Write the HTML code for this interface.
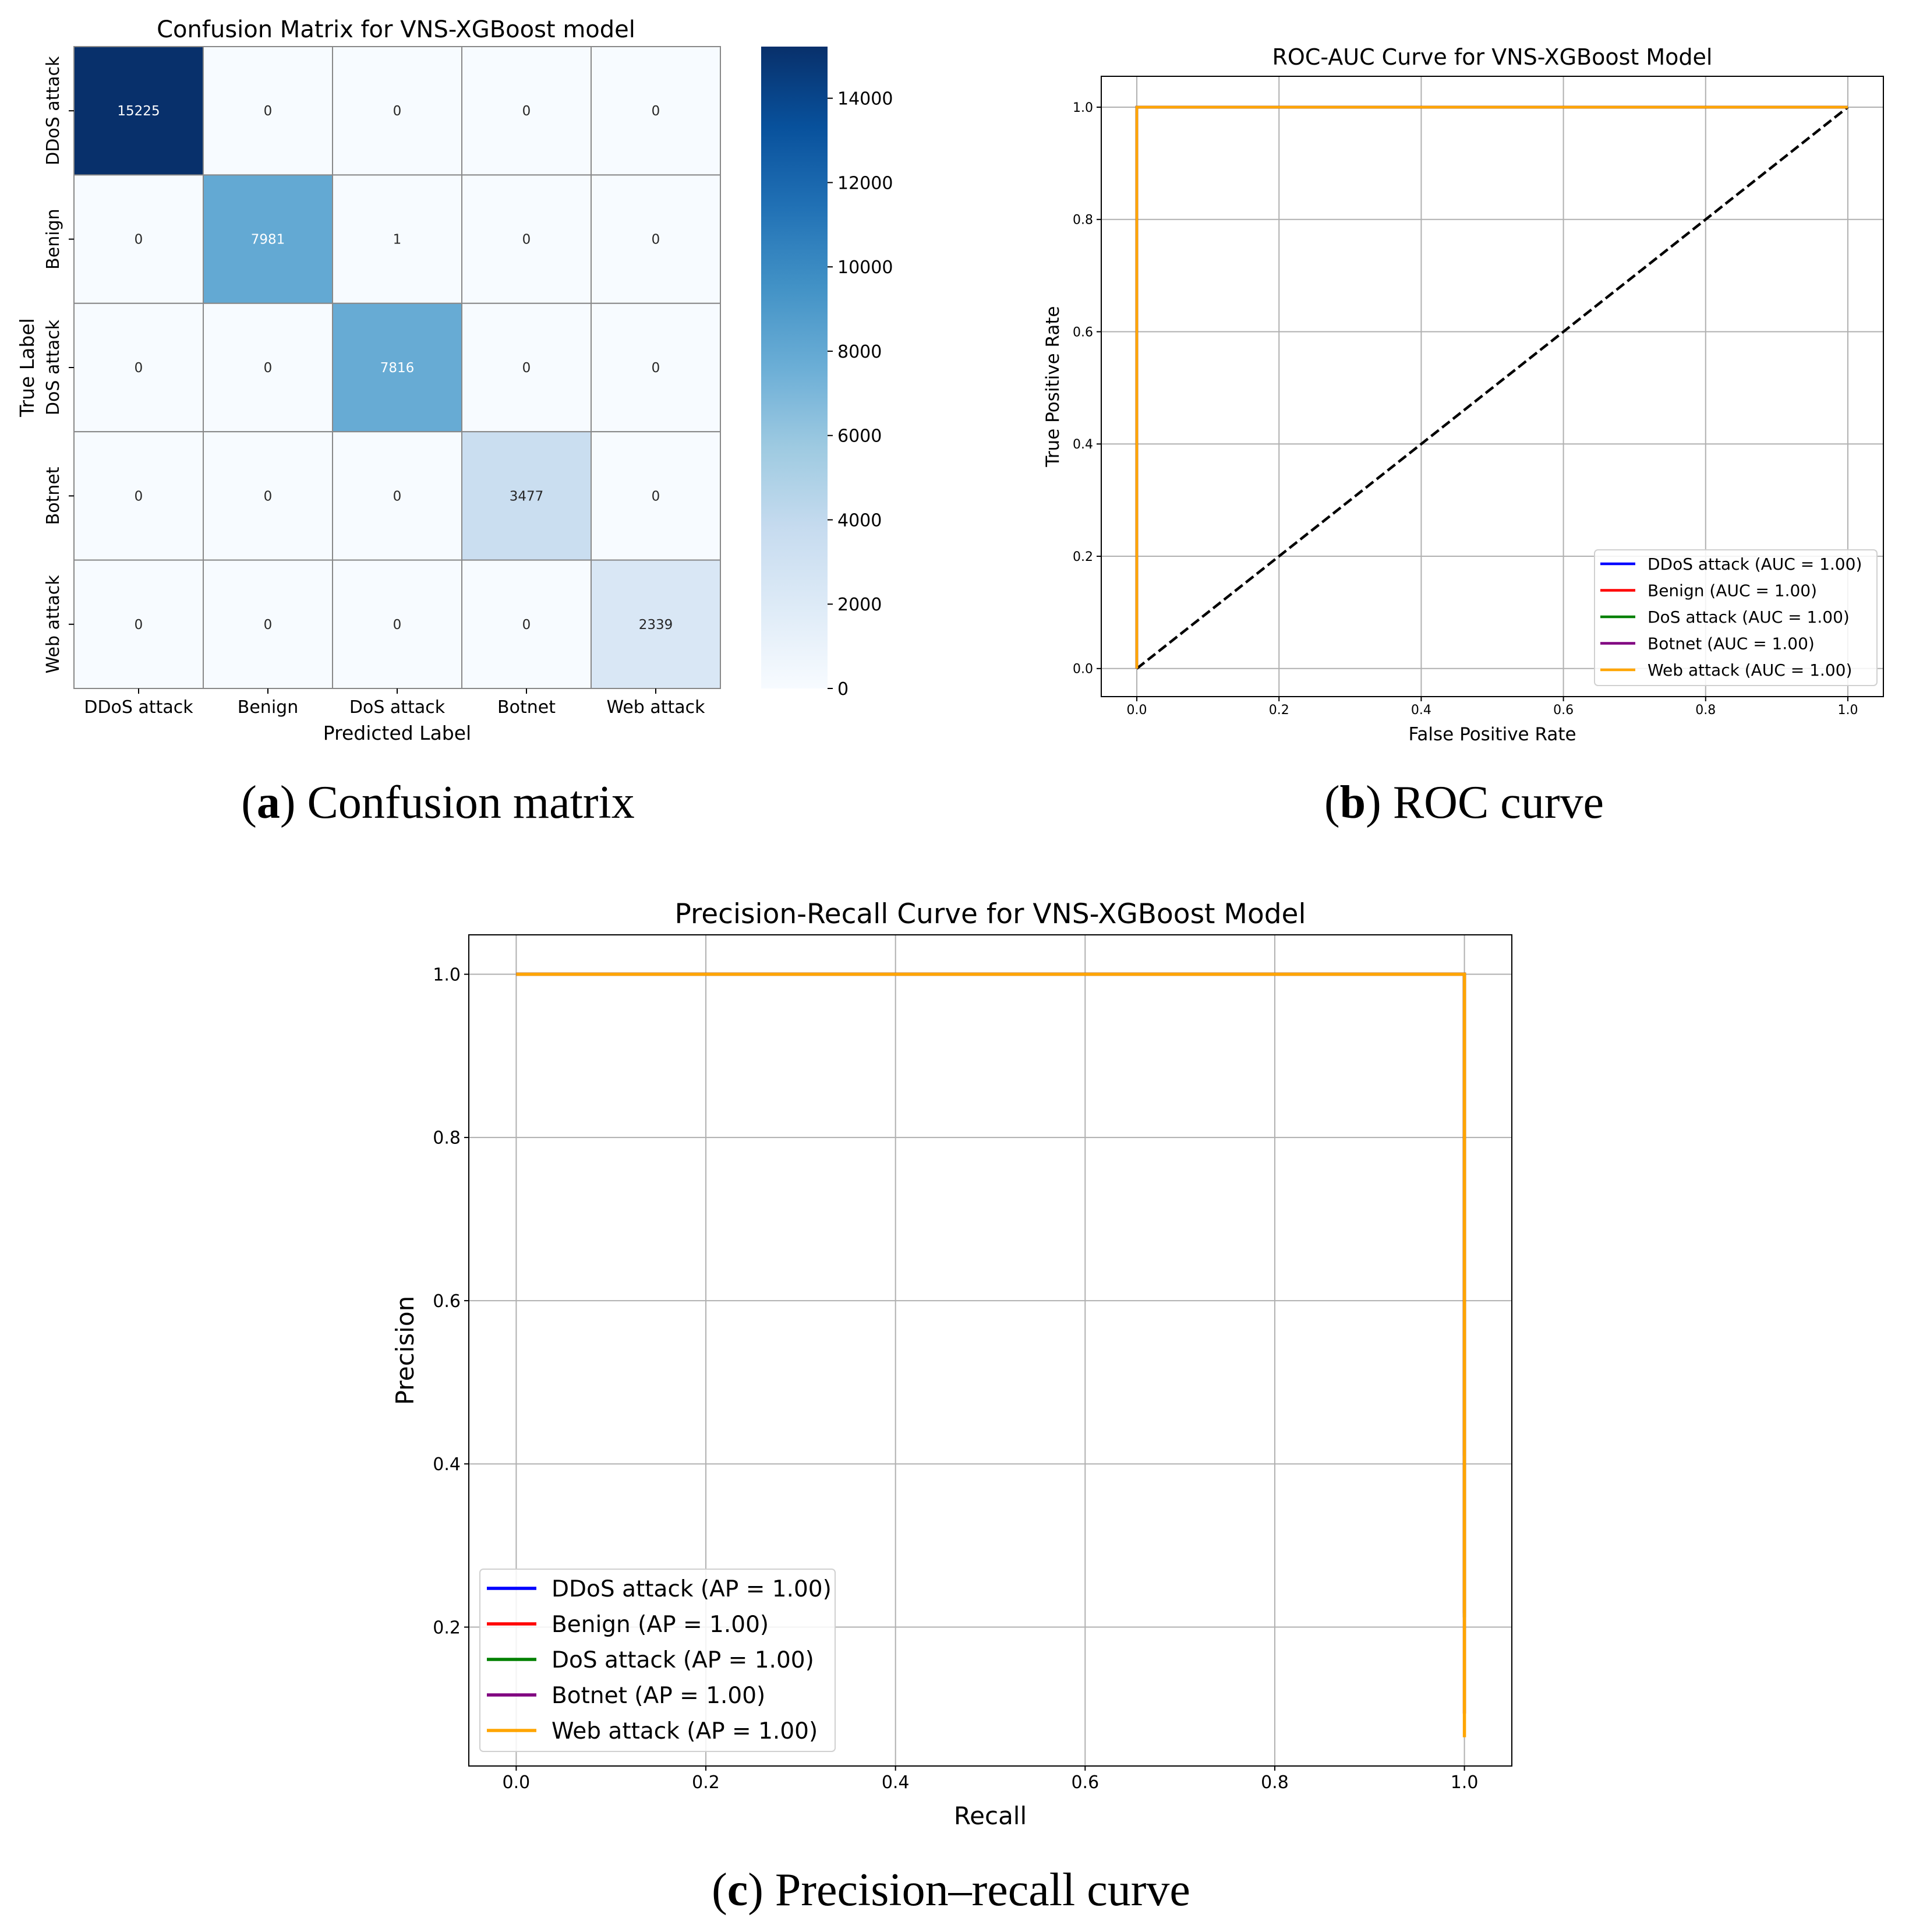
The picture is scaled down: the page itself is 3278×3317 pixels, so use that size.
<!DOCTYPE html>
<html><head><meta charset="utf-8"><style>
html,body{margin:0;padding:0;background:#fff}
svg{display:block}
text{font-family:"DejaVu Sans","Liberation Sans",sans-serif}
.cap{font-family:"Liberation Serif",serif;font-size:80px}
</style></head><body>
<svg id="fig" width="3278" height="3317" viewBox="0 0 3278 3317" xmlns="http://www.w3.org/2000/svg">
<rect width="3278" height="3317" fill="#fff"/>
<text class="cap" x="752" y="1404" text-anchor="middle">(<tspan font-weight="bold">a</tspan>) Confusion matrix</text>
<text class="cap" x="2514" y="1404" text-anchor="middle">(<tspan font-weight="bold">b</tspan>) ROC curve</text>
<text class="cap" x="1633" y="3271" text-anchor="middle">(<tspan font-weight="bold">c</tspan>) Precision–recall curve</text>
</svg>
<script>
const classes = ["DDoS attack","Benign","DoS attack","Botnet","Web attack"];
const cmValues = [
 [15225,0,0,0,0],
 [0,7981,1,0,0],
 [0,0,7816,0,0],
 [0,0,0,3477,0],
 [0,0,0,0,2339]];
const cbTicks = [0,2000,4000,6000,8000,10000,12000,14000];
const seriesColors = ["blue","red","green","purple","orange"];
const rocFpr = [[0,0,1],[0,0,1],[0,0,1],[0,0,1],[0,0,1]];
const rocTpr = [[0,1,1],[0,1,1],[0,1,1],[0,1,1],[0,1,1]];
const rocAuc = [1.00,1.00,1.00,1.00,1.00];
const prRecall = [[0,1,1],[0,1,1],[0,1,1],[0,1,1],[0,1,1]];
const prPrecision = [[1,1,0.41],[1,1,0.217],[1,1,0.212],[1,1,0.094],[1,1,0.065]];
const prAp = [1.00,1.00,1.00,1.00,1.00];
const rocTicks = [0,0.2,0.4,0.6,0.8,1.0];
const prTicks = [0.2,0.4,0.6,0.8,1.0];

const NS="http://www.w3.org/2000/svg";
const svg=document.getElementById('fig');
function el(tag,attrs,parent,txt){const e=document.createElementNS(NS,tag);for(const k in attrs)e.setAttribute(k,attrs[k]);if(txt!==undefined)e.textContent=txt;(parent||svg).appendChild(e);return e;}
const blues=[[247,251,255],[222,235,247],[198,219,239],[158,202,225],[107,174,214],[66,146,198],[33,113,181],[8,81,156],[8,48,107]];
function blue(t){t=Math.max(0,Math.min(1,t))*8;const i=Math.min(7,Math.floor(t)),f=t-i;const a=blues[i],b=blues[i+1];return `rgb(${a.map((v,k)=>Math.round(v+(b[k]-v)*f)).join(',')})`;}

/* ---------- Confusion matrix ---------- */
const hm={x0:127,x1:1237,y0:80,y1:1182};
const vmax=Math.max(...cmValues.flat()),vmin=0;
const cw=(hm.x1-hm.x0)/classes.length,ch=(hm.y1-hm.y0)/classes.length;
const gA=el('g',{},svg);


let t=el('text',{x:680,y:64,'text-anchor':'middle','font-size':40},gA,'Confusion Matrix for VNS-XGBoost model');

cmValues.forEach((row,r)=>row.forEach((v,c)=>{
 const frac=(v-vmin)/(vmax-vmin);
 const rc=el('rect',{x:hm.x0+c*cw,y:hm.y0+r*ch,width:cw,height:ch,fill:blue(frac),stroke:'#888',"stroke-width":2},gA);
 
 
 const tx=el('text',{x:hm.x0+(c+.5)*cw,y:hm.y0+(r+.5)*ch+8,'text-anchor':'middle','font-size':23,fill:frac>0.45?'#fff':'#262626'},gA,String(v));
 
 
}));
classes.forEach((n,i)=>{
 el('line',{x1:hm.x0+(i+.5)*cw,x2:hm.x0+(i+.5)*cw,y1:hm.y1,y2:hm.y1+9,stroke:'#000','stroke-width':2},gA);
 const a=el('text',{x:hm.x0+(i+.5)*cw,y:1224,'text-anchor':'middle','font-size':30},gA,n);
 
 const yc=hm.y0+(i+.5)*ch;
 el('line',{x1:hm.x0-9,x2:hm.x0,y1:yc,y2:yc,stroke:'#000','stroke-width':2},gA);
 const b=el('text',{x:0,y:0,'text-anchor':'middle','font-size':30,transform:`translate(101,${yc}) rotate(-90)`},gA,n);
 
});
t=el('text',{x:hm.x0+(hm.x1-hm.x0)/2,y:1270,'text-anchor':'middle','font-size':33},gA,'Predicted Label');

t=el('text',{x:0,y:0,'text-anchor':'middle','font-size':33,transform:'translate(58,631) rotate(-90)'},gA,'True Label');

// colorbar
const cb={x0:1307,x1:1421,y0:80,y1:1182};
const defs=el('defs',{},svg);const lg=el('linearGradient',{id:'cbg',x1:0,y1:1,x2:0,y2:0},defs);
for(let i=0;i<=16;i++)el('stop',{offset:i/16,'stop-color':blue(i/16)},lg);
const cbr=el('rect',{x:cb.x0,y:cb.y0,width:cb.x1-cb.x0,height:cb.y1-cb.y0,fill:'url(#cbg)'},gA);

cbTicks.forEach(v=>{const y=cb.y1-(v-vmin)/(vmax-vmin)*(cb.y1-cb.y0);
 el('line',{x1:cb.x1,x2:cb.x1+9,y1:y,y2:y,stroke:'#000','stroke-width':2},gA);
 const l=el('text',{x:cb.x1+17,y:y+11,'font-size':30},gA,String(v));
 });

/* ---------- generic line chart ---------- */
function lineChart(o){
 const g=el('g',{},svg);
 
 
 const sx=v=>o.px0+(v-o.xmin)/(o.xmax-o.xmin)*(o.px1-o.px0);
 const sy=v=>o.py1-(v-o.ymin)/(o.ymax-o.ymin)*(o.py1-o.py0);
 const ti=el('text',{x:(o.px0+o.px1)/2,y:o.py0-o.titleGap,'text-anchor':'middle','font-size':o.titleSize},g,o.title);
 
 o.xticks.forEach(v=>{const x=sx(v);el('line',{x1:x,x2:x,y1:o.py0,y2:o.py1,stroke:'#b0b0b0','stroke-width':2},g);
  el('line',{x1:x,x2:x,y1:o.py1,y2:o.py1+8,stroke:'#000','stroke-width':2},g);
  const l=el('text',{x:x,y:o.py1+8+o.tickSize,'text-anchor':'middle','font-size':o.tickSize},g,v.toFixed(1));
  });
 o.yticks.forEach(v=>{const y=sy(v);el('line',{x1:o.px0,x2:o.px1,y1:y,y2:y,stroke:'#b0b0b0','stroke-width':2},g);
  el('line',{x1:o.px0-8,x2:o.px0,y1:y,y2:y,stroke:'#000','stroke-width':2},g);
  const l=el('text',{x:o.px0-14,y:y+o.tickSize*0.36,'text-anchor':'end','font-size':o.tickSize},g,v.toFixed(1));
  });
 if(o.diag){const d=el('line',{x1:sx(0),y1:sy(0),x2:sx(1),y2:sy(1),stroke:'#000','stroke-width':o.lw,'stroke-dasharray':`${o.lw*3.7},${o.lw*1.6}`},g);
  }
 o.xs.forEach((xs,i)=>{const p=el('polyline',{points:xs.map((x,k)=>sx(x)+','+sy(o.ys[i][k])).join(' '),fill:'none',stroke:seriesColors[i],'stroke-width':o.lw},g);
  });
 el('rect',{x:o.px0,y:o.py0,width:o.px1-o.px0,height:o.py1-o.py0,fill:'none',stroke:'#000','stroke-width':2},g);
 const xl=el('text',{x:(o.px0+o.px1)/2,y:o.xlabY,'text-anchor':'middle','font-size':o.labSize},g,o.xlab);
 
 const yl=el('text',{x:0,y:0,'text-anchor':'middle','font-size':o.labSize,transform:`translate(${o.ylabX},${(o.py0+o.py1)/2}) rotate(-90)`},g,o.ylab);
 
 const L=o.leg;
 const lb=el('rect',{x:L.x,y:L.y,width:L.w,height:L.h,rx:6,fill:'#fff','fill-opacity':0.85,stroke:'#d0d0d0','stroke-width':2},g);
 
 classes.forEach((c,i)=>{const y=L.y+L.first+i*L.step;
  el('line',{x1:L.x+L.lx0,x2:L.x+L.lx1,y1:y,y2:y,stroke:seriesColors[i],'stroke-width':o.lw},g);
  const tx=el('text',{x:L.x+L.tx,y:y+L.fs*0.36,'font-size':L.fs},g,`${c} (${o.metric} = ${o.scores[i].toFixed(2)})`);
  });
}
lineChart({name:'roc-chart',title:'ROC-AUC Curve for VNS-XGBoost Model',titleSize:38,titleGap:20,
 px0:1891,px1:3234,py0:131,py1:1196,xmin:-0.05,xmax:1.05,ymin:-0.05,ymax:1.055,
 xticks:rocTicks,yticks:rocTicks,tickSize:22,labSize:31,xlab:'False Positive Rate',ylab:'True Positive Rate',
 xlabY:1271,ylabX:1818,diag:true,lw:4.5,xs:rocFpr,ys:rocTpr,metric:'AUC',scores:rocAuc,
 leg:{x:2738,y:944,w:485,h:233,first:24,step:45.5,lx0:10,lx1:70,tx:91,fs:28}});
lineChart({name:'precision-recall-chart',title:'Precision-Recall Curve for VNS-XGBoost Model',titleSize:47,titleGap:20,
 px0:805,px1:2596,py0:1605,py1:3032,xmin:-0.05,xmax:1.05,ymin:0.0298,ymax:1.0483,
 xticks:rocTicks,yticks:prTicks,tickSize:30,labSize:42,xlab:'Recall',ylab:'Precision',
 xlabY:3132,ylabX:710,diag:false,lw:5.5,xs:prRecall,ys:prPrecision,metric:'AP',scores:prAp,
 leg:{x:824,y:2694,w:610,h:313,first:33,step:61,lx0:12,lx1:97,tx:123,fs:39}});
</script>
</body></html>
